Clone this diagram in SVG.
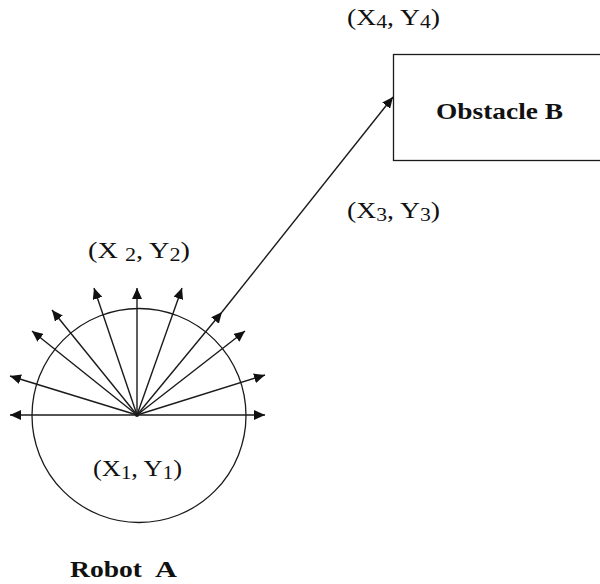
<svg xmlns="http://www.w3.org/2000/svg" width="600" height="584" viewBox="0 0 600 584">
<defs>
<style>
.ln{stroke:#1a1a1a;stroke-width:1.4;fill:none}
.sh{stroke:#1a1a1a;stroke-width:1.3;fill:none}
.t{font-family:"Liberation Serif","Times New Roman",serif;font-size:23px;fill:#111}
.b{font-family:"Liberation Serif","Times New Roman",serif;font-size:23px;font-weight:bold;fill:#111}
.s{font-size:18px}
</style>
<marker id="ah" markerUnits="userSpaceOnUse" markerWidth="12" markerHeight="10" refX="11" refY="5" orient="auto">
<path d="M0,0 L11,5 L0,10 z" fill="#111"/>
</marker>
</defs>
<rect width="600" height="584" fill="#fff"/>
<g id="robotA">
<circle class="sh" cx="139" cy="415.5" r="107"/>
<circle cx="137" cy="415" r="2" fill="#111"/>
<text class="t" x="93" y="476" textLength="89" lengthAdjust="spacingAndGlyphs">(X<tspan class="s" dy="3">1</tspan><tspan dy="-3">, Y</tspan><tspan class="s" dy="3">1</tspan><tspan dy="-3">)</tspan></text>
<text class="b" y="577"><tspan x="70" textLength="72" lengthAdjust="spacingAndGlyphs">Robot</tspan><tspan x="155" textLength="22" lengthAdjust="spacingAndGlyphs">A</tspan></text>
</g>
<g id="obstacleB">
<rect class="sh" x="393.5" y="54.5" width="230" height="106" fill="#fff"/>
<text class="b" x="436" y="119" textLength="127" lengthAdjust="spacingAndGlyphs">Obstacle B</text>
</g>
<g id="labels">
<text class="t" x="347" y="25" textLength="93" lengthAdjust="spacingAndGlyphs">(X<tspan class="s" dy="3">4</tspan><tspan dy="-3">, Y</tspan><tspan class="s" dy="3">4</tspan><tspan dy="-3">)</tspan></text>
<text class="t" x="347" y="218" textLength="93" lengthAdjust="spacingAndGlyphs">(X<tspan class="s" dy="3">3</tspan><tspan dy="-3">, Y</tspan><tspan class="s" dy="3">3</tspan><tspan dy="-3">)</tspan></text>
<text class="t" x="88" y="258" textLength="102" lengthAdjust="spacingAndGlyphs">(X <tspan class="s" dy="3">2</tspan><tspan dy="-3">, Y</tspan><tspan class="s" dy="3">2</tspan><tspan dy="-3">)</tspan></text>
</g>
<g id="connectors">
<line class="ln" x1="137" y1="415" x2="10" y2="415" marker-end="url(#ah)"/>
<line class="ln" x1="137" y1="415" x2="265" y2="415" marker-end="url(#ah)"/>
<line class="ln" x1="137" y1="415" x2="10" y2="376" marker-end="url(#ah)"/>
<line class="ln" x1="137" y1="415" x2="265" y2="375" marker-end="url(#ah)"/>
<line class="ln" x1="137" y1="415" x2="32" y2="331" marker-end="url(#ah)"/>
<line class="ln" x1="137" y1="415" x2="245" y2="331" marker-end="url(#ah)"/>
<line class="ln" x1="137" y1="415" x2="52" y2="310" marker-end="url(#ah)"/>
<line class="ln" x1="137" y1="415" x2="222" y2="312" marker-end="url(#ah)"/>
<line class="ln" x1="222" y1="312" x2="393" y2="97" marker-end="url(#ah)"/>
<line class="ln" x1="137" y1="415" x2="94" y2="288" marker-end="url(#ah)"/>
<line class="ln" x1="137" y1="415" x2="182" y2="288" marker-end="url(#ah)"/>
<line class="ln" x1="137" y1="415" x2="137" y2="288" marker-end="url(#ah)"/>
</g>
</svg>
